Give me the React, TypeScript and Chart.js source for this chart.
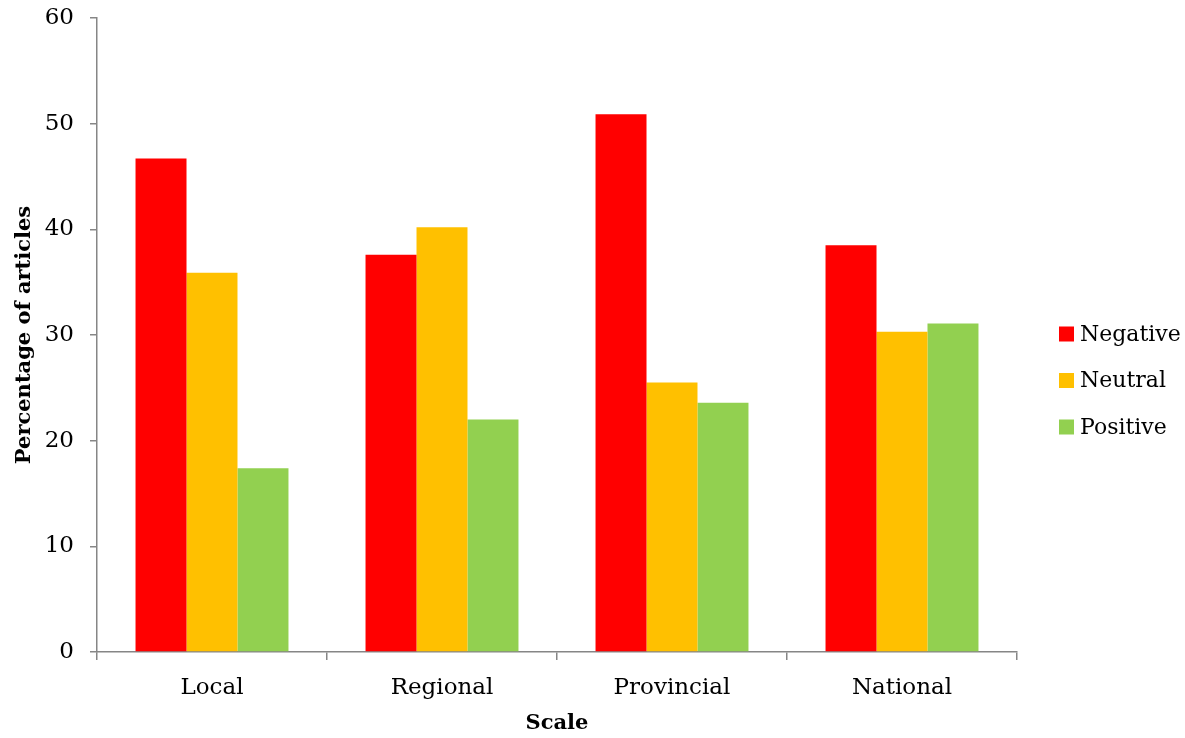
import React, { useEffect, useRef } from "react";
import { Chart, registerables } from "chart.js";

Chart.register(...registerables);

const categories = ["Local", "Regional", "Provincial", "National"];
const negativeValues = [46.7, 37.6, 50.9, 38.5];
const neutralValues = [35.9, 40.2, 25.5, 30.3];
const positiveValues = [17.4, 22.0, 23.6, 31.1];
const seriesNames = ["Negative", "Neutral", "Positive"];
const seriesColors = ["#FF0000", "#FFC000", "#92D050"];
const yTickMax = 60;
const yTickStep = 10;
const xTitle = "Scale";
const yTitle = "Percentage of articles";

const FONT = "'DejaVu Serif', serif";
const AXIS = "#868686";

const legendPlugin = {
  id: "customLegend",
  afterDraw(chart: any) {
    const ctx = chart.ctx;
    const ds = chart.data.datasets;
    ctx.save();
    ctx.font = `22px ${FONT}`;
    ctx.textBaseline = "middle";
    ctx.textAlign = "left";
    const x0 = 1059;
    const yc0 = 334;
    const gap = 46.5;
    ds.forEach((d: any, i: number) => {
      const yc = yc0 + i * gap;
      ctx.fillStyle = d.backgroundColor;
      ctx.fillRect(x0, yc - 7.5, 15, 15);
      ctx.fillStyle = "#000";
      ctx.fillText(d.label, x0 + 21, yc + 1);
    });
    ctx.restore();
  },
};

export default function App() {
  const ref = useRef<HTMLCanvasElement>(null);
  useEffect(() => {
    if (!ref.current) return;
    const values = [negativeValues, neutralValues, positiveValues];
    const chart = new Chart(ref.current, {
      type: "bar",
      data: {
        labels: categories,
        datasets: seriesNames.map((n, i) => ({
          label: n,
          data: values[i],
          backgroundColor: seriesColors[i],
          borderWidth: 0,
          categoryPercentage: 0.665,
          barPercentage: 1,
        })),
      },
      options: {
        animation: false,
        responsive: false,
        maintainAspectRatio: false,
        layout: { padding: { top: 18, right: 168, left: 0, bottom: 0 } },
        plugins: { legend: { display: false }, tooltip: { enabled: false } },
        scales: {
          x: {
            offset: true,
            grid: {
              offset: true,
              display: true,
              drawOnChartArea: false,
              drawTicks: true,
              tickLength: 8,
              color: AXIS,
              lineWidth: 1.5,
            },
            border: { display: true, color: AXIS, width: 1.5 },
            ticks: {
              color: "#000",
              font: { family: FONT, size: 23 },
              padding: 14,
            },
            title: {
              display: true,
              text: xTitle,
              color: "#000",
              font: { family: FONT, size: 21, weight: "bold" },
              padding: { top: 4, bottom: 2 },
            },
            afterFit(scale: any) {
              scale.height = 86;
              scale.paddingLeft = 0;
              scale.paddingRight = 0;
            },
          },
          y: {
            min: 0,
            max: yTickMax,
            ticks: {
              stepSize: yTickStep,
              color: "#000",
              font: { family: FONT, size: 23 },
              padding: 16,
            },
            grid: {
              display: true,
              drawOnChartArea: false,
              drawTicks: true,
              tickLength: 7,
              color: AXIS,
              lineWidth: 1.5,
            },
            border: { display: true, color: AXIS, width: 1.5 },
            title: {
              display: true,
              text: yTitle,
              color: "#000",
              font: { family: FONT, size: 21, weight: "bold" },
              padding: { top: 12, bottom: 0 },
            },
            afterFit(scale: any) {
              scale.width = 97;
              scale.paddingTop = 0;
              scale.paddingBottom = 0;
            },
          },
        },
      },
      plugins: [legendPlugin],
    });
    return () => chart.destroy();
  }, []);
  return (
    <div style={{ position: "fixed", left: 0, top: 0, width: 1185, height: 738, background: "#fff" }}>
      <canvas ref={ref} width={1185} height={738} style={{ width: 1185, height: 738, display: "block" }} />
    </div>
  );
}
